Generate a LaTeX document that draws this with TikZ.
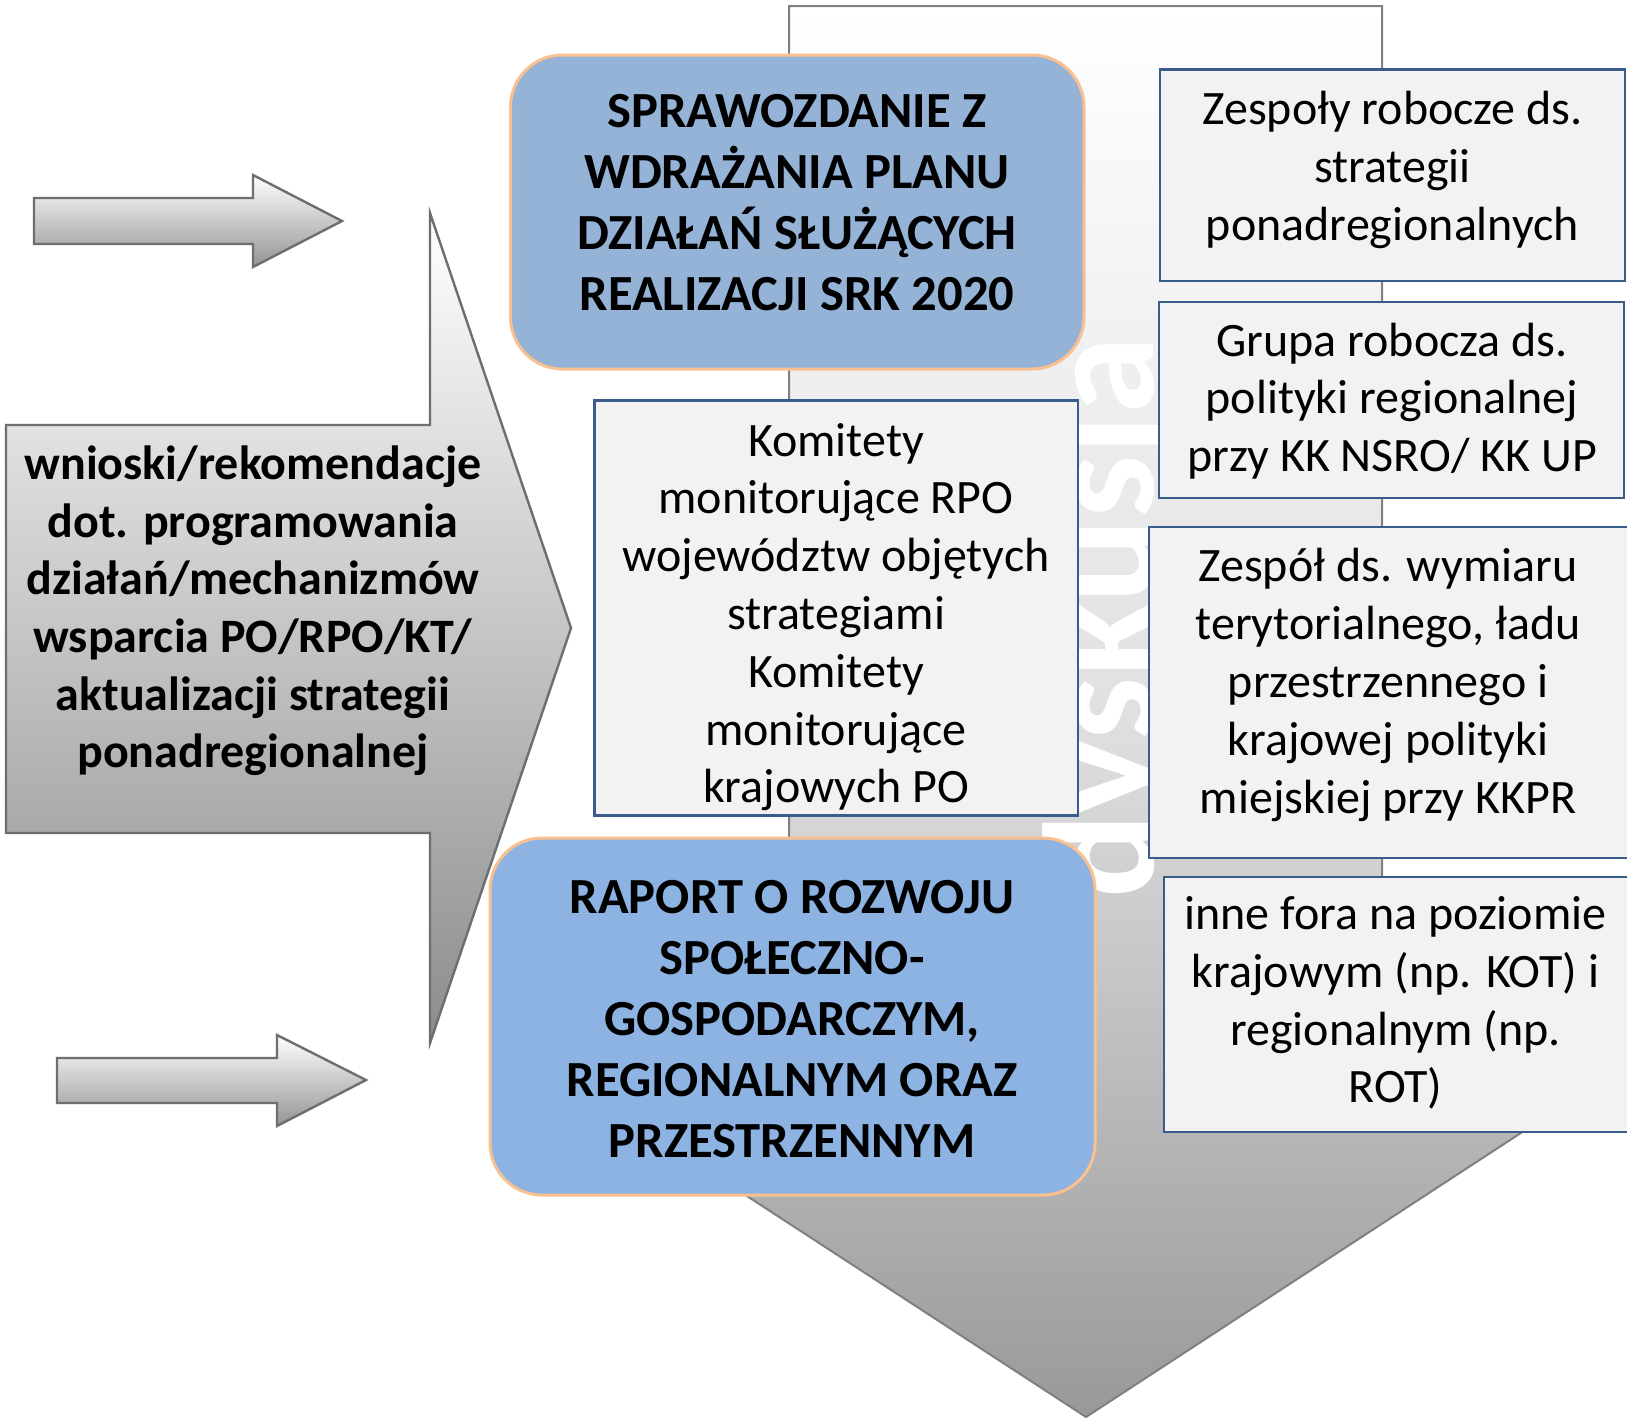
\documentclass[tikz,border=0pt]{standalone}
\usepackage{fontspec}
\setmainfont{Carlito}
\definecolor{boxorange}{HTML}{FAC08F}
\definecolor{blueA}{HTML}{95B3D7}
\definecolor{blueB}{HTML}{8DB3E2}
\definecolor{boxblue}{HTML}{385D8A}
\definecolor{boxfill}{HTML}{F2F2F2}
\definecolor{arrowline}{HTML}{6E6E6E}
\begin{document}
\begin{tikzpicture}[x=0.5pt,y=-0.5pt,
  smallarrow/.style={draw=arrowline, line width=1.2pt, top color=white, bottom color=black!42},
  bluebox/.style={draw=boxorange, line width=1.5pt, rounded corners=26pt},
  graybox/.style={draw=boxblue, fill=boxfill, line width=1.2pt},
  boldtxt/.style={align=center, inner sep=0pt, font=\bfseries\fontsize{25.3}{30.5}\selectfont},
  leftbold/.style={align=center, inner sep=0pt, font=\bfseries\fontsize{24}{28.8}\selectfont},
  regtxt/.style={align=center, inner sep=0pt, font=\fontsize{24}{28.9}\selectfont},
]
\useasboundingbox[fill=white] (0,0) rectangle (1627,1421);

% big downward arrow
\draw[draw=black!50, line width=1pt, top color=white, bottom color=black!40, middle color=black!12]
  (789,6) -- (1382,6) -- (1382,1110) -- (1556,1110) -- (1086,1417) -- (615,1110) -- (789,1110) -- cycle;

% rotated label
\node[rotate=90, anchor=base, text=white, inner sep=0pt,
      font=\bfseries\fontsize{79}{79}\selectfont] (dysk) at (1153,618) {dyskusja};

% left callout arrow
\draw[draw=arrowline, line width=1.2pt, top color=white, bottom color=black!45]
  (6,425) -- (430,425) -- (430,213) -- (571,628) -- (430,1043) -- (430,833) -- (6,833) -- cycle;
\node[leftbold] (wnioski) at (253,611)
  {wnioski/rekomendacje\\dot. programowania\\działań/mechanizmów\\wsparcia PO/RPO/KT/\\aktualizacji strategii\\ponadregionalnej};

% small arrows
\draw[smallarrow] (34,198) -- (253,198) -- (253,175) -- (342,221) -- (253,267) -- (253,244) -- (34,244) -- cycle;
\draw[smallarrow] (57,1058) -- (277,1058) -- (277,1035) -- (366,1080) -- (277,1126) -- (277,1103) -- (57,1103) -- cycle;

% blue boxes
\draw[bluebox, fill=blueA] (510.5,55) rectangle (1084,369);
\node[boldtxt] (spraw) at (797,203)
  {SPRAWOZDANIE Z\\WDRAŻANIA PLANU\\DZIAŁAŃ SŁUŻĄCYCH\\REALIZACJI SRK 2020};

\draw[bluebox, fill=blueB] (490,838) rectangle (1095,1195);
\node[boldtxt] (raport) at (792,1019)
  {RAPORT O ROZWOJU\\SPOŁECZNO-\\GOSPODARCZYM,\\REGIONALNYM ORAZ\\PRZESTRZENNYM};

% gray boxes
\draw[graybox] (594.5,400.5) rectangle (1078,815.6);
\node[regtxt] (komitety) at (836,617)
  {Komitety\\monitorujące RPO\\województw objętych\\strategiami\\Komitety\\monitorujące\\krajowych PO};

\draw[graybox] (1160,69.5) rectangle (1625,281);
\node[regtxt] (zespoly) at (1392.5,170)
  {Zespoły robocze ds.\\strategii\\ponadregionalnych};

\draw[graybox] (1159,302) rectangle (1624,498);
\node[regtxt] (grupa) at (1392,401)
  {Grupa robocza ds.\\polityki regionalnej\\przy KK NSRO/ KK UP};

\draw[graybox] (1149,527) rectangle (1633,858);
\node[regtxt] (zespol) at (1388,685)
  {Zespół ds. wymiaru\\terytorialnego, ładu\\przestrzennego i\\krajowej polityki\\miejskiej przy KKPR};

\draw[graybox] (1164,877) rectangle (1633,1132);
\node[regtxt] (inne) at (1395.5,1003)
  {inne fora na poziomie\\krajowym (np. KOT) i\\regionalnym (np.\\ROT)};
\end{tikzpicture}
\end{document}
